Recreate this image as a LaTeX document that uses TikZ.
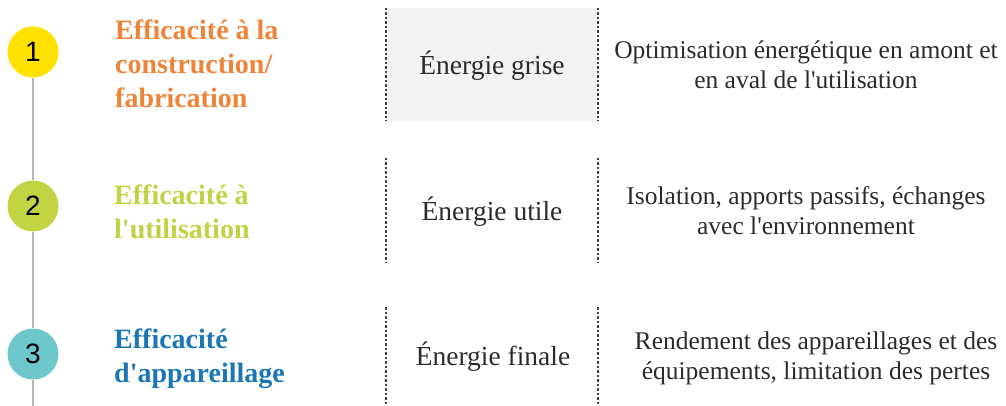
\documentclass[tikz,border=0pt]{standalone}
\usepackage{fontspec}
\setmainfont{Liberation Serif}[Ligatures=TeXOff]
\newfontfamily\numfont{Liberation Sans}
\definecolor{corange}{HTML}{EF8338}
\definecolor{cgreen}{HTML}{C2D245}
\definecolor{cblue}{HTML}{1B76B4}
\definecolor{cyellow}{HTML}{FFE100}
\definecolor{cgreenc}{HTML}{C3D443}
\definecolor{cteal}{HTML}{6EC7CA}
\definecolor{boxgray}{HTML}{F2F2F2}
\definecolor{txt}{HTML}{2B2B2B}
\definecolor{vgray}{HTML}{B5B5B5}
\begin{document}
\begin{tikzpicture}[x=1pt,y=-1pt,
  numcirc/.style={circle,minimum size=51pt,inner sep=0pt,font=\numfont\fontsize{28}{28}\selectfont,text=black},
  title/.style={anchor=west,align=left,inner sep=0pt,font=\fontsize{28}{34}\selectfont\bfseries},
  energy/.style={inner sep=0pt,text=txt,font=\fontsize{27.5}{30}\selectfont},
  desc/.style={inner sep=0pt,align=center,text=txt,font=\fontsize{25.5}{30}\selectfont},
  sep/.style={draw=black!75,line width=1.3pt,dash pattern=on 2.5pt off 2pt},
  vline/.style={draw=vgray,line width=2.5pt}]
\useasboundingbox (0,0) rectangle (1006,406);
\fill[boxgray] (386,8) rectangle (598,121);
% circles
\node[numcirc,fill=cyellow] (n1) at (33,52) {1};
\node[numcirc,fill=cgreenc] (n2) at (33,206) {2};
\node[numcirc,fill=cteal] (n3) at (33,354) {3};
\coordinate (bot) at (33,406);
\draw[vline] (n1.south) -- (n2.north);
\draw[vline] (n2.south) -- (n3.north);
\draw[vline] (n3.south) -- (bot);
% titles
\node[title,text=corange] (t1) at (115,64) {Efficacité à la\\construction/\\fabrication};
\node[title,text=cgreen] (t2) at (114,212) {Efficacité à\\l'utilisation};
\node[title,text=cblue] (t3) at (114,359) {Efficacité\\d'appareillage};
% separators
\coordinate (a1) at (386,8);   \coordinate (a2) at (386,121);
\coordinate (b1) at (598,8);   \coordinate (b2) at (598,121);
\coordinate (c1) at (386,158); \coordinate (c2) at (386,262);
\coordinate (d1) at (598,158); \coordinate (d2) at (598,262);
\coordinate (e1) at (386,307); \coordinate (e2) at (386,406);
\coordinate (f1) at (598,307); \coordinate (f2) at (598,406);
\draw[sep] (a1) -- (a2); \draw[sep] (b1) -- (b2);
\draw[sep] (c1) -- (c2); \draw[sep] (d1) -- (d2);
\draw[sep] (e1) -- (e2); \draw[sep] (f1) -- (f2);
% energy labels
\node[energy] (e1l) at (492,66) {Énergie grise};
\node[energy] (e2l) at (492,212) {Énergie utile};
\node[energy] (e3l) at (493,357) {Énergie finale};
% descriptions
\node[desc] (d1l) at (806,65) {Optimisation énergétique en amont et\\en aval de l'utilisation};
\node[desc] (d2l) at (806,211) {Isolation, apports passifs, échanges\\avec l'environnement};
\node[desc] (d3l) at (816,358) {Rendement des appareillages et des\\équipements, limitation des pertes};
\end{tikzpicture}
\end{document}
